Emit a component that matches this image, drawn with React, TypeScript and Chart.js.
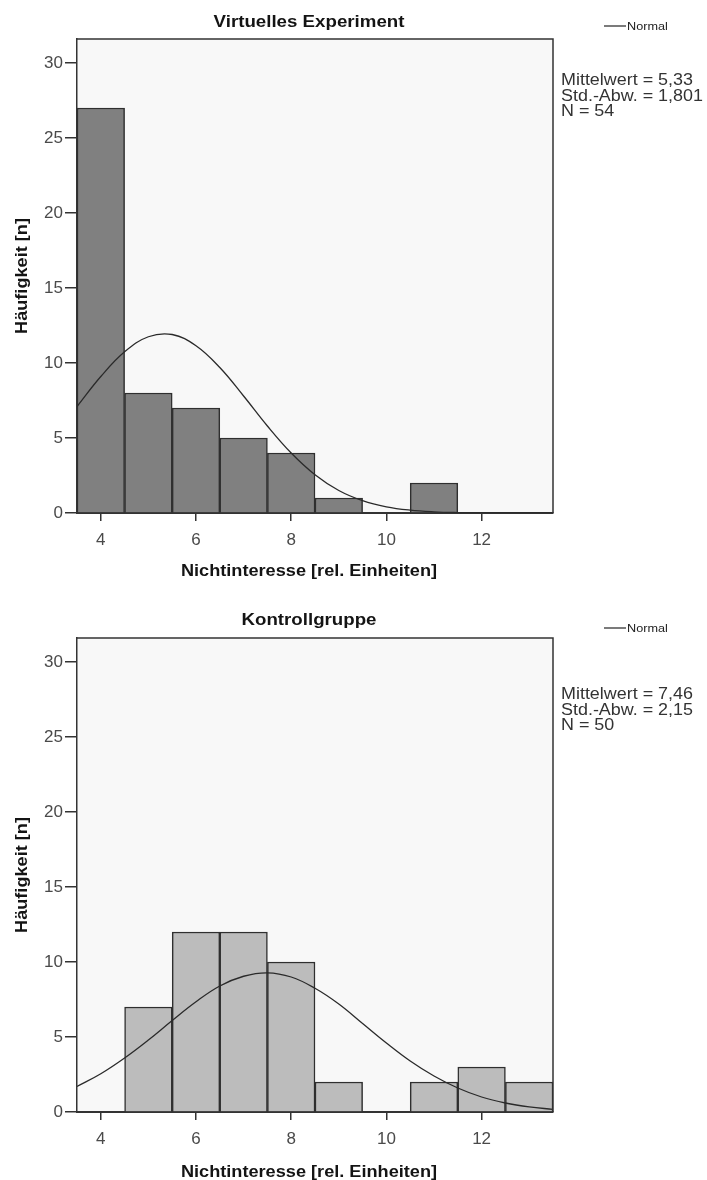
import React, { useEffect, useRef } from 'react';
import { Chart, registerables } from 'chart.js';

Chart.register(...registerables);

// ---- data ----
const binCenters = [4, 5, 6, 7, 8, 9, 10, 11, 12, 13];
const countsVirtual = [27, 8, 7, 5, 4, 1, 0, 2, 0, 0];
const countsControl = [0, 7, 12, 12, 10, 2, 0, 2, 3, 2];

const curveX = [3.5, 4, 4.5, 5, 5.5, 6, 6.5, 7, 7.5, 8, 8.5, 9, 9.5, 10, 10.5, 11, 11.5, 12, 12.5, 13, 13.5];
const curveVirtual = [7.1, 9.1, 10.75, 11.75, 11.9, 11.15, 9.7, 7.8, 5.8, 4.0, 2.55, 1.5, 0.82, 0.41, 0.19, 0.08, 0.03, 0.01, 0.0, 0.0, 0.0];
const curveControl = [1.7, 2.55, 3.6, 4.8, 6.1, 7.35, 8.4, 9.05, 9.28, 9.0, 8.25, 7.2, 5.9, 4.6, 3.4, 2.4, 1.6, 1.0, 0.6, 0.34, 0.18];

const xTicks = [4, 6, 8, 10, 12];
const yTicks = [0, 5, 10, 15, 20, 25, 30];

const titleVirtual = 'Virtuelles Experiment';
const titleControl = 'Kontrollgruppe';
const statsVirtual = ['Mittelwert = 5,33', 'Std.-Abw. = 1,801', 'N = 54'];
const statsControl = ['Mittelwert = 7,46', 'Std.-Abw. = 2,15', 'N = 50'];
const xAxisTitle = 'Nichtinteresse [rel. Einheiten]';
const yAxisTitle = 'Häufigkeit [n]';
const legendLabel = 'Normal';

const FONT = '"Liberation Sans", Arial, Helvetica, sans-serif';

const framePlugin = {
  id: 'spssFrame',
  beforeDraw(chart: any) {
    const { ctx, chartArea: a } = chart;
    ctx.save();
    ctx.fillStyle = '#f8f8f8';
    ctx.fillRect(a.left, a.top, a.right - a.left, a.bottom - a.top);
    ctx.restore();
  },
  afterDraw(chart: any) {
    const { ctx, chartArea: a } = chart;
    ctx.save();
    ctx.strokeStyle = '#333';
    ctx.lineWidth = 1.5;
    ctx.beginPath();
    ctx.moveTo(a.left, a.top);
    ctx.lineTo(a.right, a.top);
    ctx.lineTo(a.right, a.bottom);
    ctx.stroke();
    ctx.restore();
  },
};

function wideText(ctx: any, text: string, x: number, y: number, sx: number, rot = 0) {
  ctx.save();
  ctx.translate(x, y);
  if (rot) ctx.rotate(rot);
  ctx.scale(sx, 1);
  ctx.fillText(text, 0, 0);
  ctx.restore();
}

const textPlugin = {
  id: 'spssText',
  afterDraw(chart: any, _args: any, opts: any) {
    const { ctx, chartArea: a } = chart;
    ctx.save();
    ctx.fillStyle = '#141414';
    ctx.textAlign = 'center';
    ctx.textBaseline = 'middle';
    ctx.font = 'bold 17px ' + FONT;
    wideText(ctx, opts.title, 309, opts.titleY, 1.1);
    ctx.font = 'bold 16.5px ' + FONT;
    wideText(ctx, opts.xTitle, 309, opts.xTitleY, 1.1);
    wideText(ctx, opts.yTitle, 22, opts.yTitleY, 1.1, -Math.PI / 2);

    // legend
    ctx.strokeStyle = '#333';
    ctx.lineWidth = 1.3;
    ctx.beginPath();
    ctx.moveTo(604, opts.legendY);
    ctx.lineTo(626, opts.legendY);
    ctx.stroke();
    ctx.font = '11.5px ' + FONT;
    ctx.textAlign = 'left';
    ctx.fillStyle = '#222';
    wideText(ctx, opts.legend, 627, opts.legendY + 1, 1.1);

    // stats
    ctx.font = '16px ' + FONT;
    ctx.fillStyle = '#333';
    opts.stats.forEach((s: string, i: number) => {
      wideText(ctx, s, a.right + 8, opts.statsY + i * 15.5, 1.12);
    });
    ctx.restore();
  },
};

function Histogram(props: {
  counts: number[];
  curve: number[];
  barColor: string;
  height: number;
  title: string;
  stats: string[];
  titleY: number;
  legendY: number;
  statsY: number;
  xTitleY: number;
  yTitleY: number;
}) {
  const ref = useRef<HTMLCanvasElement | null>(null);
  useEffect(() => {
    if (!ref.current) return;
    const bars = binCenters
      .map((x, i) => ({ x, y: props.counts[i] }))
      .filter((d) => d.y > 0);
    const line = curveX.map((x, i) => ({ x, y: props.curve[i] }));
    const chart = new Chart(ref.current, {
      type: 'bar',
      data: {
        datasets: [
          {
            type: 'line',
            data: line,
            borderColor: '#2a2a2a',
            borderWidth: 1.3,
            pointRadius: 0,
            tension: 0.4,
            fill: false,
            order: 0,
          } as any,
          {
            type: 'bar',
            data: bars,
            backgroundColor: props.barColor,
            borderColor: '#2f2f2f',
            borderWidth: 1.5,
            barPercentage: 1,
            categoryPercentage: 1,
            grouped: false,
            order: 1,
          } as any,
        ],
      },
      options: {
        responsive: false,
        animation: false,
        events: [],
        layout: { padding: { top: 39, right: 154, left: 0, bottom: 0 } },
        plugins: {
          legend: { display: false },
          tooltip: { enabled: false },
          title: { display: false },
          spssText: {
            title: props.title,
            xTitle: xAxisTitle,
            yTitle: yAxisTitle,
            legend: legendLabel,
            stats: props.stats,
            titleY: props.titleY,
            legendY: props.legendY,
            statsY: props.statsY,
            xTitleY: props.xTitleY,
            yTitleY: props.yTitleY,
          },
        } as any,
        scales: {
          x: {
            type: 'linear',
            min: 3.5,
            max: 13.5,
            offset: false,
            afterBuildTicks: (s: any) => {
              s.ticks = xTicks.map((v) => ({ value: v }));
            },
            afterFit: (s: any) => {
              s.height = props.height - 513;
            },
            grid: {
              display: true,
              offset: false,
              drawOnChartArea: false,
              drawTicks: true,
              tickLength: 8,
              color: '#333',
              lineWidth: 1.5,
            },
            border: { display: true, color: '#333', width: 2 },
            ticks: {
              padding: 9,
              color: '#4a4a4a',
              font: { family: FONT, size: 17 },
              maxRotation: 0,
              autoSkip: false,
            },
          },
          y: {
            type: 'linear',
            min: 0,
            max: 31.6,
            afterBuildTicks: (s: any) => {
              s.ticks = yTicks.map((v) => ({ value: v }));
            },
            afterFit: (s: any) => {
              s.width = 77;
            },
            grid: {
              display: true,
              drawOnChartArea: false,
              drawTicks: true,
              tickLength: 12,
              color: '#333',
              lineWidth: 1.5,
            },
            border: { display: true, color: '#333', width: 1.5 },
            ticks: {
              padding: 2,
              color: '#4a4a4a',
              font: { family: FONT, size: 17 },
              autoSkip: false,
            },
          },
        },
      } as any,
      plugins: [framePlugin, textPlugin] as any,
    });
    return () => chart.destroy();
  }, []);
  return (
    <canvas
      ref={ref}
      width={707}
      height={props.height}
      style={{ display: 'block', width: 707, height: props.height }}
    />
  );
}

export default function App() {
  return (
    <div
      style={{
        position: 'absolute',
        left: 0,
        top: 0,
        width: 707,
        height: 1180,
        background: '#ffffff',
        overflow: 'hidden',
      }}
    >
      <Histogram
        counts={countsVirtual}
        curve={curveVirtual}
        barColor="#808080"
        height={599}
        title={titleVirtual}
        stats={statsVirtual}
        titleY={22}
        legendY={26}
        statsY={81}
        xTitleY={571}
        yTitleY={276}
      />
      <Histogram
        counts={countsControl}
        curve={curveControl}
        barColor="#bcbcbc"
        height={581}
        title={titleControl}
        stats={statsControl}
        titleY={21}
        legendY={29}
        statsY={96}
        xTitleY={573}
        yTitleY={276}
      />
    </div>
  );
}
